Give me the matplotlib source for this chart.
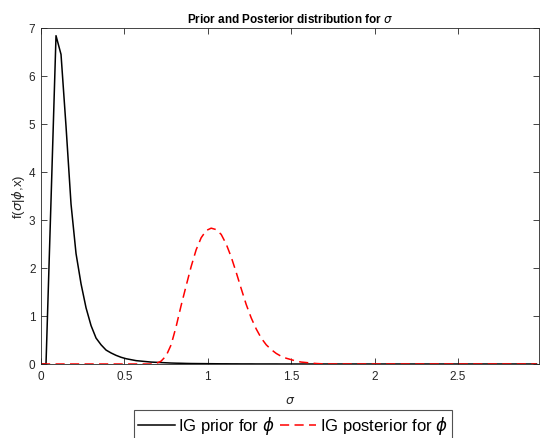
import matplotlib
matplotlib.use("Agg")
import matplotlib.pyplot as plt

plt.rcParams['font.family'] = ['Liberation Sans', 'DejaVu Sans']
plt.rcParams['mathtext.fontset'] = 'dejavusans'

# grid of sigma values (step 0.03)
sigma = [round(0.03 * i, 2) for i in range(100)]

# prior density (first points, tail near zero)
prior_head = [0.0, 0.0, 3.4, 6.84, 6.45, 4.95, 3.33, 2.3, 1.67, 1.17,
              0.80, 0.54, 0.40, 0.29, 0.23, 0.18, 0.14, 0.11, 0.09, 0.07,
              0.06, 0.05, 0.04, 0.035, 0.03, 0.025, 0.02, 0.017, 0.015, 0.012,
              0.01, 0.009, 0.008, 0.007, 0.006, 0.005, 0.004, 0.004, 0.003, 0.003,
              0.002, 0.002, 0.002, 0.001, 0.001, 0.001, 0.001, 0.001, 0.0, 0.0]
prior = prior_head + [0.0] * (len(sigma) - len(prior_head))

# posterior density
post_head = [0.0] * 22 + [0.0, 0.01, 0.06, 0.17, 0.40, 0.78, 1.22, 1.63,
                          2.03, 2.38, 2.63, 2.78, 2.83, 2.80, 2.70, 2.50, 2.23, 1.91,
                          1.57, 1.24, 0.96, 0.73, 0.54, 0.40, 0.30, 0.22, 0.16, 0.12,
                          0.09, 0.06, 0.04, 0.03, 0.02, 0.01, 0.005, 0.0]
posterior = post_head + [0.0] * (len(sigma) - len(post_head))

fig = plt.figure(figsize=(5.4, 4.39), dpi=100)
ax = fig.add_axes([41/540, 1 - 365/439, 498/540, 336/439])

ax.plot(sigma, prior, color='black', lw=1.1, label=r'IG prior for $\phi$')
ax.plot(sigma, posterior, color='red', lw=1.1, ls=(0, (6, 3.5)),
        label=r'IG posterior for $\phi$')

ax.set_xlim(0, 2.985)
ax.set_ylim(0, 7)
ax.set_xticks([0, 0.5, 1, 1.5, 2, 2.5])
ax.set_xticklabels(['0', '0.5', '1', '1.5', '2', '2.5'])
ax.set_yticks(range(8))

gray = '#262626'
ax.tick_params(direction='in', length=4, width=0.6, labelsize=8.5, colors=gray,
               top=True, right=True, pad=4)
for s in ax.spines.values():
    s.set_color(gray)
    s.set_linewidth(0.6)

ax.set_xlabel(r'$\sigma$', fontsize=9, color=gray, labelpad=9)
ax.set_ylabel(r'f($\sigma$|$\phi$,x)', fontsize=9.5, color=gray, labelpad=1)
ax.set_title(r'Prior and Posterior distribution for $\sigma$', fontsize=8.5,
             fontweight='bold', pad=4)

leg = fig.legend(loc='center', bbox_to_anchor=(293/540, 1 - 426.5/439), ncol=2,
                 fontsize=12, frameon=True, fancybox=False, edgecolor=gray,
                 handlelength=2.2, handletextpad=0.2, columnspacing=0.3,
                 borderpad=0.25)
leg.get_frame().set_linewidth(0.8)

fig.savefig('out.png', dpi=100)
